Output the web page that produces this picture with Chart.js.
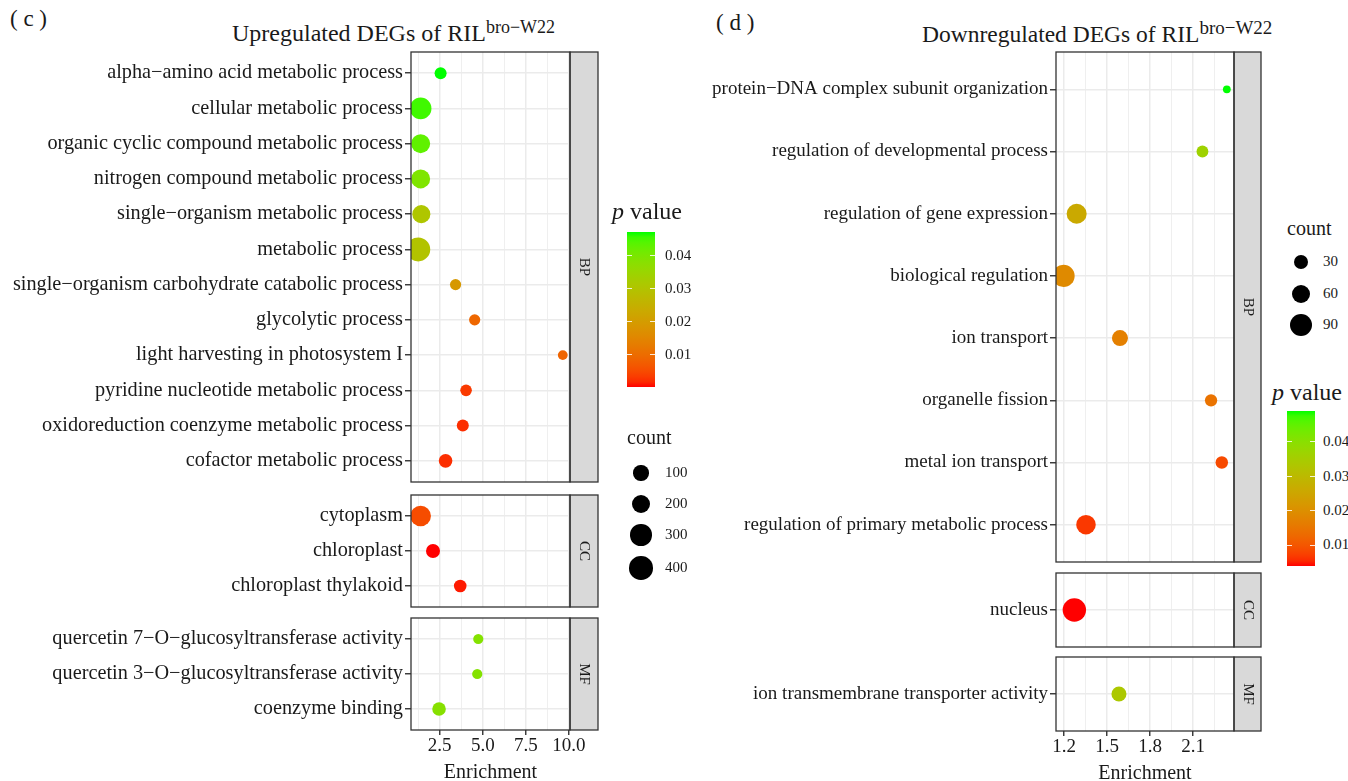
<!DOCTYPE html>
<html>
<head>
<meta charset="utf-8">
<script src="https://cdn.jsdelivr.net/npm/chart.js@4.4.1/dist/chart.umd.min.js"></script>
<style>
  body { margin: 0; background: #fff; width: 1348px; height: 781px; position: relative; overflow: hidden;
         font-family: "Liberation Serif", "Times New Roman", serif; color: #1a1a1a; }
  .t { position: absolute; white-space: nowrap; line-height: 1; }
  canvas { position: absolute; }
</style>
</head>
<body>
<script>
// ---- data: upregulated (c) ----
const upTerms = [
  "alpha−amino acid metabolic process", "cellular metabolic process", "organic cyclic compound metabolic process",
  "nitrogen compound metabolic process", "single−organism metabolic process", "metabolic process",
  "single−organism carbohydrate catabolic process", "glycolytic process", "light harvesting in photosystem I",
  "pyridine nucleotide metabolic process", "oxidoreduction coenzyme metabolic process", "cofactor metabolic process",
  "cytoplasm", "chloroplast", "chloroplast thylakoid",
  "quercetin 7−O−glucosyltransferase activity", "quercetin 3−O−glucosyltransferase activity", "coenzyme binding"
];
const upOntology = ["BP","BP","BP","BP","BP","BP","BP","BP","BP","BP","BP","BP","CC","CC","CC","MF","MF","MF"];
const upEnrichment = [2.55, 1.39, 1.39, 1.39, 1.43, 1.25, 3.42, 4.53, 9.65, 4.03, 3.84, 2.84, 1.39, 2.11, 3.69, 4.74, 4.68, 2.46];
const upPValue = [0.047, 0.0452, 0.0428, 0.0392, 0.0305, 0.0298, 0.019, 0.009, 0.0085, 0.003, 0.002, 0.002, 0.005, 0.00005, 0.0008, 0.0385, 0.0385, 0.038];
const upCount = [39, 312, 212, 212, 179, 420, 28, 28, 13, 33, 39, 66, 271, 74, 48, 17, 17, 66];

// ---- data: downregulated (d) ----
const downTerms = [
  "protein−DNA complex subunit organization", "regulation of developmental process", "regulation of gene expression",
  "biological regulation", "ion transport", "organelle fission", "metal ion transport",
  "regulation of primary metabolic process", "nucleus", "ion transmembrane transporter activity"
];
const downOntology = ["BP","BP","BP","BP","BP","BP","BP","BP","CC","MF"];
const downEnrichment = [2.335, 2.165, 1.288, 1.196, 1.59, 2.225, 2.30, 1.353, 1.272, 1.583];
const downPValue = [0.049, 0.0365, 0.026, 0.019, 0.017, 0.0145, 0.0084, 0.0066, 0.0039, 0.0337];
const downCount = [5, 18, 69, 90, 40, 20, 21, 65, 100, 34];

// axis ticks and legend breaks
const upXMajor = [2.5, 5, 7.5, 10];
const upXMinor = [1.25, 3.75, 6.25, 8.75];
const downXMajor = [1.2, 1.5, 1.8, 2.1];
const downXMinor = [1.35, 1.65, 1.95, 2.25];
const upCountBreaks = [100, 200, 300, 400];
const downCountBreaks = [30, 60, 90];
const pBreaks = [0.01, 0.02, 0.03, 0.04];

const SERIF = '"Liberation Serif", "Times New Roman", serif';

// colour scale: red -> green, interpolated in Lab like ggplot
function toLin(c) { c /= 255; return c <= 0.04045 ? c / 12.92 : Math.pow((c + 0.055) / 1.055, 2.4); }
function rgbToLab(r, g, b) {
  r = toLin(r); g = toLin(g); b = toLin(b);
  const X = (0.4124564 * r + 0.3575761 * g + 0.1804375 * b) / 0.95047;
  const Y = 0.2126729 * r + 0.7151522 * g + 0.0721750 * b;
  const Z = (0.0193339 * r + 0.1191920 * g + 0.9503041 * b) / 1.08883;
  const f = t => t > 0.008856 ? Math.cbrt(t) : 7.787 * t + 16 / 116;
  return [116 * f(Y) - 16, 500 * (f(X) - f(Y)), 200 * (f(Y) - f(Z))];
}
function labToRgb(L, a, b) {
  const fy = (L + 16) / 116, fx = a / 500 + fy, fz = fy - b / 200;
  const fi = t => t * t * t > 0.008856 ? t * t * t : (t - 16 / 116) / 7.787;
  const X = fi(fx) * 0.95047, Y = fi(fy), Z = fi(fz) * 1.08883;
  const g = c => { c = c <= 0.0031308 ? 12.92 * c : 1.055 * Math.pow(c, 1 / 2.4) - 0.055; return Math.round(Math.min(1, Math.max(0, c)) * 255); };
  return [g(3.2404542 * X - 1.5371385 * Y - 0.4985314 * Z),
          g(-0.9692660 * X + 1.8760108 * Y + 0.0415560 * Z),
          g(0.0556434 * X - 0.2040259 * Y + 1.0572252 * Z)];
}
const labLow = rgbToLab(255, 0, 0), labHigh = rgbToLab(0, 255, 0);
function pColor(p, lo, hi) {
  const t = Math.min(1, Math.max(0, (p - lo) / (hi - lo)));
  const c = labToRgb(...labLow.map((v, i) => v + t * (labHigh[i] - v)));
  return `rgb(${c[0]},${c[1]},${c[2]})`;
}

// bubble radius (area-like scaling on sqrt of count)
function sizer(counts, rLo, rHi) {
  const sLo = Math.sqrt(Math.min(...counts)), sHi = Math.sqrt(Math.max(...counts));
  return c => rLo + (rHi - rLo) * (Math.sqrt(c) - sLo) / (sHi - sLo);
}

const up = {
  terms: upTerms, ontology: upOntology, enrichment: upEnrichment, pvalue: upPValue, count: upCount,
  pLo: Math.min(...upPValue), pHi: Math.max(...upPValue), radius: sizer(upCount, 4.9, 12),
  canvasLeft: 0, panelLeft: 411, panelRight: 570, stripW: 28, labelSize: 20.3,
  xMin: 0.83, xMax: 10.07, xMajor: upXMajor, xMinor: upXMinor,
  panels: { BP: [52, 482], CC: [495, 607], MF: [618, 730] }
};
const down = {
  terms: downTerms, ontology: downOntology, enrichment: downEnrichment, pvalue: downPValue, count: downCount,
  pLo: Math.min(...downPValue), pHi: Math.max(...downPValue), radius: sizer(downCount, 3.9, 11.7),
  canvasLeft: 680, panelLeft: 1056, panelRight: 1234, stripW: 27, labelSize: 19,
  xMin: 1.144, xMax: 2.385, xMajor: downXMajor, xMinor: downXMinor,
  panels: { BP: [52, 562], CC: [573, 647], MF: [657, 731] }
};

// panel border + facet strip
const frame = (label, stripW) => ({
  id: 'frame',
  afterDatasetsDraw(chart) {
    const { ctx, chartArea: a } = chart;
    ctx.save();
    ctx.strokeStyle = '#333';
    ctx.lineWidth = 1.3;
    ctx.fillStyle = '#d9d9d9';
    ctx.fillRect(a.right, a.top, stripW, a.bottom - a.top);
    ctx.strokeRect(a.right, a.top, stripW, a.bottom - a.top);
    ctx.strokeRect(a.left, a.top, a.right - a.left, a.bottom - a.top);
    ctx.translate(a.right + stripW / 2, (a.top + a.bottom) / 2);
    ctx.rotate(Math.PI / 2);
    ctx.fillStyle = '#1a1a1a';
    ctx.font = '15px ' + SERIF;
    ctx.textAlign = 'center';
    ctx.textBaseline = 'middle';
    ctx.fillText(label, 0, 0);
    ctx.restore();
  }
});

function makePanel(side, ont, showAxis) {
  const idx = side.ontology.map((o, i) => o === ont ? i : -1).filter(i => i >= 0);
  const terms = idx.map(i => side.terms[i]);
  const [top, bottom] = side.panels[ont];
  const axisH = showAxis ? 56 : 0;
  const w = side.panelRight + side.stripW + 2 - side.canvasLeft;
  const h = bottom - top + 2 + (showAxis ? axisH : 2);
  const canvas = document.createElement('canvas');
  canvas.width = w; canvas.height = h;
  canvas.style.left = side.canvasLeft + 'px';
  canvas.style.top = (top - 2) + 'px';
  document.body.appendChild(canvas);
  const xAll = side.xMinor.concat(side.xMajor).sort((a, b) => a - b);
  const isMajor = v => side.xMajor.includes(v);

  new Chart(canvas, {
    type: 'bubble',
    data: {
      datasets: [{
        data: idx.map((i, k) => ({ x: side.enrichment[i], y: k + 1, r: side.radius(side.count[i]) })),
        backgroundColor: idx.map(i => pColor(side.pvalue[i], side.pLo, side.pHi)),
        borderWidth: 0,
        hoverBorderWidth: 0,
        hoverRadius: 0,
        clip: 0
      }]
    },
    options: {
      responsive: false,
      animation: false,
      devicePixelRatio: 1,
      events: [],
      layout: {
        autoPadding: false,
        padding: { top: 2, bottom: showAxis ? 0 : 2, left: 0, right: w - (side.panelRight - side.canvasLeft) }
      },
      plugins: { legend: { display: false }, tooltip: { enabled: false } },
      scales: {
        x: {
          type: 'linear', bounds: 'data', min: side.xMin, max: side.xMax,
          afterBuildTicks: s => { s.ticks = xAll.map(v => ({ value: v })); },
          afterFit: s => { s.height = axisH; s.paddingLeft = 0; s.paddingRight = 0; },
          ticks: {
            display: showAxis, autoSkip: false, maxRotation: 0, padding: 0,
            color: '#1a1a1a', font: { family: SERIF, size: 19 },
            callback: v => isMajor(v) ? v.toFixed(1) : ''
          },
          grid: {
            color: '#ebebeb',
            lineWidth: c => (c.tick && isMajor(c.tick.value)) ? 1.5 : 0.8,
            drawTicks: showAxis, tickLength: 5, tickWidth: 1.4,
            tickColor: c => (c.tick && isMajor(c.tick.value)) ? '#333' : 'rgba(0,0,0,0)'
          },
          border: { display: false },
          title: { display: showAxis, text: 'Enrichment', color: '#1a1a1a', font: { family: SERIF, size: 20 }, padding: { top: 0, bottom: 1 } }
        },
        y: {
          type: 'linear', bounds: 'data', reverse: true, min: 0.4, max: terms.length + 0.6,
          afterBuildTicks: s => { s.ticks = terms.map((t, k) => ({ value: k + 1 })); },
          afterFit: s => { s.width = side.panelLeft - side.canvasLeft; s.paddingTop = 0; s.paddingBottom = 0; },
          ticks: { autoSkip: false, padding: 2, color: '#1a1a1a', font: { family: SERIF, size: side.labelSize, lineHeight: 0.1 }, callback: v => terms[v - 1] },
          grid: { color: '#ebebeb', lineWidth: 1.5, tickLength: 6, tickWidth: 1.4, tickColor: '#333' },
          border: { display: false }
        }
      }
    },
    plugins: [frame(ont, side.stripW)]
  });
}

function text(str, left, top, size, extra) {
  const d = document.createElement('div');
  d.className = 't';
  d.style.left = left + 'px';
  d.style.top = top + 'px';
  d.style.fontSize = size + 'px';
  if (extra) d.style.cssText += extra;
  d.innerHTML = str;
  document.body.appendChild(d);
  return d;
}

// legends: colour bar and size keys
function colourBar(side, x, top, height, width, labelX) {
  const stops = [];
  for (let i = 0; i <= 30; i++) stops.push(pColor(side.pLo + (side.pHi - side.pLo) * i / 30, side.pLo, side.pHi) + ' ' + (i / 30 * 100).toFixed(1) + '%');
  const bar = document.createElement('div');
  bar.style.cssText = `position:absolute;left:${x}px;top:${top}px;width:${width}px;height:${height}px;background:linear-gradient(to top, ${stops.join(',')})`;
  document.body.appendChild(bar);
  pBreaks.forEach(p => {
    const y = top + height - (p - side.pLo) / (side.pHi - side.pLo) * height;
    [x, x + width - 5].forEach(tx => {
      const tk = document.createElement('div');
      tk.style.cssText = `position:absolute;left:${tx}px;top:${y - 0.5}px;width:5px;height:1px;background:rgba(255,255,255,0.85)`;
      document.body.appendChild(tk);
    });
    text(p.toFixed(2), labelX, y - 7.6, 15);
  });
}
function sizeKeys(side, breaks, cx, ys, labelX) {
  breaks.forEach((c, i) => {
    const r = side.radius(c);
    const dot = document.createElement('div');
    dot.style.cssText = `position:absolute;left:${cx - r}px;top:${ys[i] - r}px;width:${2 * r}px;height:${2 * r}px;border-radius:50%;background:#000`;
    document.body.appendChild(dot);
    text(String(c), labelX, ys[i] - 7.6, 15);
  });
}

['BP', 'CC', 'MF'].forEach(o => makePanel(up, o, o === 'MF'));
['BP', 'CC', 'MF'].forEach(o => makePanel(down, o, o === 'MF'));

// titles
text('( c )', 10, 7, 23);
text('Upregulated DEGs of RIL<span style="font-size:18px;position:relative;top:-8px">bro−W22</span>', 232, 21, 24);
text('( d )', 716, 11, 23);
text('Downregulated DEGs of RIL<span style="font-size:19px;position:relative;top:-8px">bro−W22</span>', 922, 23, 23.5);

// left legends
text('<i>p</i> value', 612, 199, 24);
colourBar(up, 627, 232, 155, 28, 665);
text('count', 627, 427, 20);
sizeKeys(up, upCountBreaks, 641, [473, 504, 535, 568], 665);

// right legends
text('count', 1287, 218, 20);
sizeKeys(down, downCountBreaks, 1301, [262, 294, 325], 1323);
text('<i>p</i> value', 1272, 380, 24);
colourBar(down, 1287, 411, 155, 28, 1323);
</script>
</body>
</html>
